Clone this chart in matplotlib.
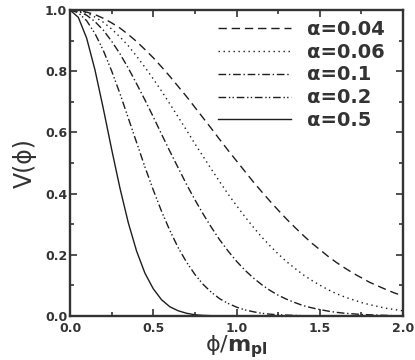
import matplotlib
matplotlib.use('Agg')
import matplotlib.pyplot as plt
from matplotlib.ticker import MultipleLocator, FormatStrFormatter

plt.rcParams['font.family'] = ['DejaVu Sans']
plt.rcParams['mathtext.fontset'] = 'dejavusans'

# phi / m_pl sample points
phi = [0.00, 0.05, 0.10, 0.15, 0.20, 0.25, 0.30, 0.35, 0.40, 0.45,
       0.50, 0.55, 0.60, 0.65, 0.70, 0.75, 0.80, 0.85, 0.90, 0.95,
       1.00, 1.05, 1.10, 1.15, 1.20, 1.25, 1.30, 1.35, 1.40, 1.45,
       1.50, 1.55, 1.60, 1.65, 1.70, 1.75, 1.80, 1.85, 1.90, 1.95, 2.00]

v_004 = [1.000, 0.998, 0.993, 0.985, 0.973, 0.958, 0.941, 0.920, 0.897, 0.871,
         0.844, 0.814, 0.783, 0.750, 0.717, 0.682, 0.647, 0.612, 0.576, 0.541,
         0.507, 0.473, 0.439, 0.407, 0.376, 0.346, 0.317, 0.290, 0.264, 0.239,
         0.217, 0.195, 0.175, 0.157, 0.140, 0.125, 0.110, 0.098, 0.086, 0.075, 0.066]

v_006 = [1.000, 0.997, 0.990, 0.977, 0.960, 0.938, 0.912, 0.883, 0.849, 0.813,
         0.775, 0.735, 0.693, 0.650, 0.607, 0.563, 0.521, 0.479, 0.438, 0.398,
         0.361, 0.325, 0.291, 0.259, 0.230, 0.203, 0.178, 0.156, 0.135, 0.117,
         0.101, 0.086, 0.073, 0.062, 0.053, 0.044, 0.037, 0.031, 0.025, 0.021, 0.017]

v_01 = [1.000, 0.996, 0.983, 0.962, 0.934, 0.898, 0.857, 0.810, 0.759, 0.706,
        0.651, 0.594, 0.538, 0.484, 0.430, 0.380, 0.333, 0.289, 0.248, 0.212,
        0.179, 0.150, 0.125, 0.103, 0.084, 0.068, 0.055, 0.044, 0.034, 0.027,
        0.021, 0.016, 0.012, 0.009, 0.007, 0.005, 0.004, 0.003, 0.002, 0.001, 0.001]

v_02 = [1.000, 0.991, 0.965, 0.923, 0.868, 0.801, 0.727, 0.647, 0.567, 0.487,
        0.412, 0.342, 0.279, 0.223, 0.176, 0.136, 0.103, 0.077, 0.056, 0.041,
        0.029, 0.020, 0.014, 0.009, 0.006, 0.004, 0.003, 0.002, 0.001, 0.001,
        0.000, 0.000, 0.000, 0.000, 0.000, 0.000, 0.000, 0.000, 0.000, 0.000, 0.000]

v_05 = [1.000, 0.976, 0.908, 0.804, 0.678, 0.545, 0.418, 0.305, 0.212, 0.140,
        0.089, 0.053, 0.030, 0.017, 0.009, 0.004, 0.002, 0.001, 0.000, 0.000,
        0.000, 0.000, 0.000, 0.000, 0.000, 0.000, 0.000, 0.000, 0.000, 0.000,
        0.000, 0.000, 0.000, 0.000, 0.000, 0.000, 0.000, 0.000, 0.000, 0.000, 0.000]

labels = ['α=0.04', 'α=0.06', 'α=0.1', 'α=0.2', 'α=0.5']
dashes = [(6, 3.5), (1, 2.6), (5.5, 2, 1, 2), (5.5, 2, 1, 1.6, 1, 2), ()]

fig = plt.figure(figsize=(4.15, 3.6), dpi=100)
ax = fig.add_axes([70/415, 1-316/360, 333/415, 306/360])

ink = '#1e1e1e'
grey = '#333333'
for v, lab, d in zip([v_004, v_006, v_01, v_02, v_05], labels, dashes):
    line, = ax.plot(phi, v, color=ink, lw=1.0, label=lab)
    if d:
        line.set_dashes(d)

ax.set_xlim(0, 2.0)
ax.set_ylim(0, 1.0)
ax.xaxis.set_major_locator(MultipleLocator(0.5))
ax.xaxis.set_minor_locator(MultipleLocator(0.25))
ax.yaxis.set_major_locator(MultipleLocator(0.2))
ax.yaxis.set_minor_locator(MultipleLocator(0.1))
ax.xaxis.set_major_formatter(FormatStrFormatter('%.1f'))
ax.yaxis.set_major_formatter(FormatStrFormatter('%.1f'))

ax.tick_params(which='both', direction='in', top=True, right=True,
               color=grey, width=1.2)
ax.tick_params(which='major', length=5, labelsize=9)
ax.tick_params(which='minor', length=3)
ax.tick_params(axis='x', which='major', pad=4)
ax.tick_params(axis='y', which='major', pad=2)
for t in ax.get_xticklabels() + ax.get_yticklabels():
    t.set_fontweight('bold')
    t.set_color(grey)
for s in ax.spines.values():
    s.set_linewidth(1.7)
    s.set_color(grey)

ax.set_ylabel('V(ϕ)', fontsize=17, color=grey, labelpad=6)
ax.set_xlabel(r'ϕ/$\mathbf{m}_{\mathbf{pl}}$', fontsize=16, color=grey, labelpad=-1)

leg = ax.legend(loc='upper right', bbox_to_anchor=(394/415, 1-10/360),
                bbox_transform=fig.transFigure, frameon=False, borderpad=0,
                handlelength=3.75, handletextpad=0.8, labelspacing=0.2,
                prop={'size': 14, 'weight': 'bold'})
for t in leg.get_texts():
    t.set_color(grey)

plt.savefig('out.png', dpi=100)
